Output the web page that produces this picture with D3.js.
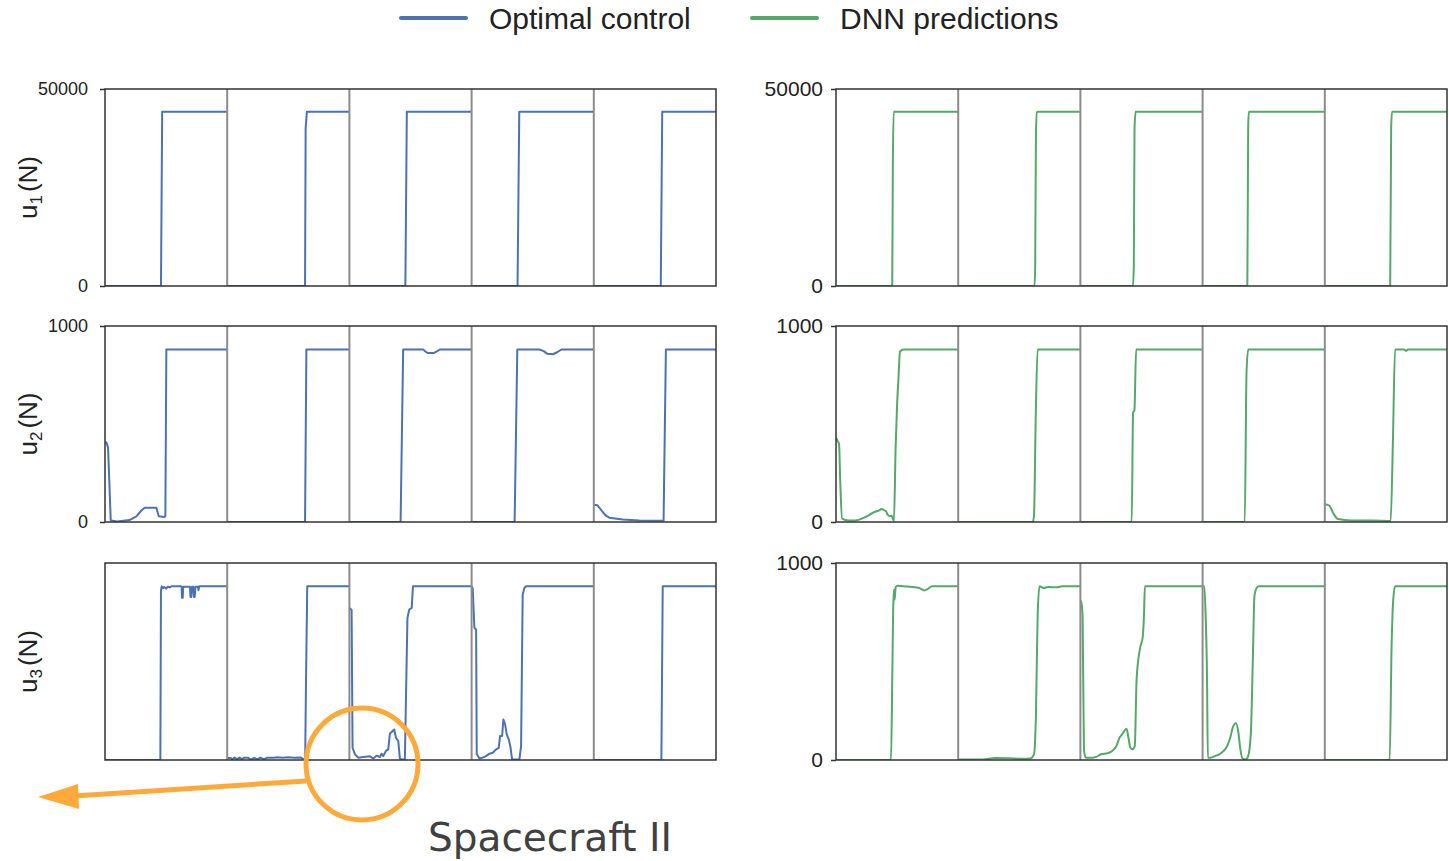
<!DOCTYPE html>
<html>
<head>
<meta charset="utf-8">
<script src="https://cdn.jsdelivr.net/npm/d3@7"></script>
<style>
  html, body { margin: 0; padding: 0; background: #fff; }
  svg { display: block; font-family: "Liberation Sans", Arial, sans-serif; }
</style>
</head>
<body>
<svg id="chart" width="1449" height="861"></svg>
<script>
// Five independent trajectories per panel; t is normalised time within each trajectory.
const segmentIds = [0, 1, 2, 3, 4];
const rowNames = ["1", "2", "3"];
const yMaxima = [50000, 1000, 1000];
const leftTickLabels = [["0", "50000"], ["0", "1000"], []];
const rightTickLabels = [["0", "50000"], ["0", "1000"], ["0", "1000"]];
const legendLabels = ["Optimal control", "DNN predictions"];
const annotationLabel = "Spacecraft II";

// u1 thrust [t, N]
const u1Optimal = [
  [[0, 0], [0.458, 0], [0.468, 44200], [1, 44200]],
  [[0, 0], [0.637, 0], [0.642, 40000], [0.652, 44200], [1, 44200]],
  [[0, 0], [0.458, 0], [0.47, 44200], [1, 44200]],
  [[0, 0], [0.376, 0], [0.39, 44200], [1, 44200]],
  [[0, 0], [0.548, 0], [0.56, 44200], [1, 44200]]
];
const u1Dnn = [
  [[0, 0], [0.46, 0], [0.465, 30000], [0.472, 44200], [1, 44200]],
  [[0, 0], [0.625, 0], [0.63, 5000], [0.636, 38000], [0.643, 44200], [1, 44200]],
  [[0, 0], [0.43, 0], [0.437, 5000], [0.443, 40000], [0.452, 44200], [1, 44200]],
  [[0, 0], [0.366, 0], [0.373, 40000], [0.378, 44200], [1, 44200]],
  [[0, 0], [0.535, 0], [0.543, 40000], [0.55, 44200], [1, 44200]]
];

// u2 thrust [t, N]
const u2Optimal = [
  [[0, 410], [0.012, 405], [0.025, 380], [0.047, 8], [0.1, 3], [0.2, 10], [0.257, 29], [0.3, 60],
   [0.325, 73], [0.42, 73], [0.44, 29], [0.483, 25], [0.494, 30], [0.502, 880], [1, 880]],
  [[0, 0], [0.637, 0], [0.648, 880], [1, 880]],
  [[0, 0], [0.419, 0], [0.44, 880], [0.604, 880], [0.625, 868], [0.645, 862], [0.69, 862],
   [0.715, 870], [0.74, 880], [1, 880]],
  [[0, 0], [0.352, 0], [0.374, 880], [0.556, 880], [0.59, 872], [0.62, 858], [0.666, 856],
   [0.7, 866], [0.735, 880], [1, 880]],
  [[0, 88], [0.03, 85], [0.05, 70], [0.072, 51], [0.1, 32], [0.127, 22], [0.236, 13], [0.372, 8],
   [0.563, 6], [0.571, 6], [0.59, 880], [1, 880]]
];
const u2Dnn = [
  [[0, 431], [0.012, 415], [0.025, 397], [0.035, 200], [0.05, 17], [0.1, 8], [0.158, 8], [0.23, 22],
   [0.3, 46], [0.33, 55], [0.355, 59], [0.37, 66], [0.39, 62], [0.41, 54], [0.42, 40], [0.44, 30],
   [0.456, 32], [0.465, 15], [0.474, 5], [0.488, 380], [0.5, 600], [0.51, 718], [0.524, 870],
   [0.553, 880], [1, 880]],
  [[0, 0], [0.61, 0], [0.62, 30], [0.635, 549], [0.65, 880], [1, 880]],
  [[0, 0], [0.42, 0], [0.431, 557], [0.442, 570], [0.456, 880], [1, 880]],
  [[0, 0], [0.345, 0], [0.359, 752], [0.373, 880], [1, 880]],
  [[0, 90], [0.018, 88], [0.036, 84], [0.072, 42], [0.108, 15], [0.215, 8], [0.395, 8], [0.539, 5],
   [0.557, 400], [0.575, 880], [0.65, 880], [0.664, 873], [0.68, 880], [1, 880]]
];

// u3 thrust [t, N]
const u3Optimal = [
  [[0, 0], [0.453, 0], [0.458, 860], [0.464, 882], [0.475, 872], [0.485, 878], [0.5, 870], [0.515, 880],
   [0.53, 876], [0.545, 882], [0.62, 882], [0.627, 880], [0.63, 823], [0.636, 823], [0.64, 880],
   [0.695, 880], [0.7, 828], [0.706, 828], [0.712, 880], [0.722, 880], [0.728, 828], [0.734, 828],
   [0.74, 880], [0.76, 880], [0.765, 862], [0.771, 882], [1, 882]],
  [[0, 10], [0.03, 10], [0.04, 3], [0.06, 12], [0.08, 3], [0.1, 12], [0.12, 4], [0.14, 12], [0.17, 12],
   [0.19, 2], [0.22, 10], [0.25, 3], [0.27, 12], [0.3, 4], [0.33, 12], [0.38, 12], [0.41, 14],
   [0.45, 12], [0.5, 14], [0.55, 12], [0.6, 13], [0.625, 5], [0.638, 3], [0.645, 400], [0.655, 882],
   [1, 882]],
  [[0, 772], [0.018, 763], [0.026, 62], [0.045, 29], [0.072, 12], [0.113, 15], [0.168, 19], [0.195, 8],
   [0.222, 22], [0.25, 15], [0.263, 32], [0.277, 20], [0.299, 46], [0.318, 54], [0.331, 133],
   [0.354, 147], [0.367, 155], [0.381, 113], [0.4, 96], [0.413, 8], [0.427, 3], [0.454, 3],
   [0.46, 215], [0.475, 721], [0.49, 764], [0.51, 772], [0.52, 882], [1, 882]],
  [[0, 882], [0.009, 872], [0.023, 671], [0.037, 662], [0.042, 30], [0.064, 8], [0.091, 12], [0.118, 20],
   [0.146, 32], [0.173, 37], [0.187, 46], [0.2, 54], [0.222, 62], [0.233, 122], [0.25, 122],
   [0.26, 206], [0.274, 181], [0.288, 130], [0.304, 105], [0.318, 66], [0.331, 3], [0.391, 3],
   [0.405, 71], [0.418, 840], [0.432, 873], [0.446, 882], [1, 882]],
  [[0, 0], [0.553, 0], [0.564, 882], [1, 882]]
];
const u3Dnn = [
  [[0, 0], [0.45, 0], [0.46, 392], [0.468, 764], [0.474, 865], [0.48, 814], [0.488, 878], [0.505, 885],
   [0.553, 882], [0.625, 878], [0.68, 873], [0.725, 861], [0.75, 868], [0.786, 882], [1, 882]],
  [[0, 2], [0.2, 2], [0.305, 10], [0.413, 9], [0.52, 6], [0.59, 8], [0.62, 29], [0.636, 223],
   [0.65, 730], [0.665, 882], [0.7, 873], [0.736, 878], [0.81, 877], [0.85, 882], [1, 882]],
  [[0, 806], [0.007, 806], [0.018, 730], [0.029, 54], [0.043, 12], [0.097, 12], [0.133, 17], [0.169, 29],
   [0.223, 34], [0.259, 46], [0.295, 71], [0.32, 113], [0.341, 130], [0.359, 147], [0.377, 159],
   [0.391, 122], [0.409, 62], [0.427, 54], [0.445, 71], [0.459, 392], [0.474, 510], [0.492, 578],
   [0.509, 620], [0.52, 730], [0.528, 882], [1, 882]],
  [[0, 882], [0.014, 882], [0.025, 730], [0.036, 426], [0.043, 12], [0.065, 12], [0.1, 20], [0.136, 29],
   [0.172, 46], [0.201, 71], [0.226, 113], [0.251, 172], [0.273, 186], [0.291, 147], [0.309, 54],
   [0.327, 7], [0.352, 3], [0.373, 20], [0.395, 139], [0.413, 561], [0.424, 831], [0.442, 873],
   [0.46, 882], [1, 882]],
  [[0, 0], [0.531, 0], [0.546, 561], [0.56, 814], [0.575, 882], [1, 882]]
];

const optimalSeries = [u1Optimal, u2Optimal, u3Optimal];
const dnnSeries = [u1Dnn, u2Dnn, u3Dnn];

// ---- layout & style ----
const BLUE = "#4c72b0";
const GREEN = "#55a868";
const ORANGE = "#ffa93b";
const FRAME = "#333333";
const DIVIDER = "#8c8c8c";
const SANS = "'Liberation Sans', Arial, sans-serif";

const columns = [
  { x0: 105, x1: 716, series: optimalSeries, color: BLUE, ticks: leftTickLabels, tickFont: 18, curve: d3.curveLinear },
  { x0: 836, x1: 1447, series: dnnSeries, color: GREEN, ticks: rightTickLabels, tickFont: 21, curve: d3.curveMonotoneX }
];
const rowBands = [[89, 286], [326, 522], [563, 760]];

const svg = d3.select("#chart");

columns.forEach((col, ci) => {
  rowBands.forEach((band, ri) => {
    const [y0, y1] = band;
    const x = d3.scaleLinear().domain([0, segmentIds.length]).range([col.x0, col.x1]);
    const y = d3.scaleLinear().domain([0, yMaxima[ri]]).range([y1, y0]);
    const g = svg.append("g");

    const clipId = `clip-${ci}-${ri}`;
    svg.append("clipPath").attr("id", clipId)
      .append("rect").attr("x", col.x0).attr("y", y0 - 3)
      .attr("width", col.x1 - col.x0).attr("height", y1 - y0 + 3);

    // trajectories
    const line = d3.line().curve(col.curve);
    const traj = g.append("g").attr("clip-path", `url(#${clipId})`);
    segmentIds.forEach(s => {
      line.x(d => x(s + d[0])).y(d => y(d[1]));
      traj.append("path")
        .attr("d", line(col.series[ri][s]))
        .attr("fill", "none")
        .attr("stroke", col.color)
        .attr("stroke-width", 2)
        .attr("stroke-linejoin", "round");
    });

    // trajectory dividers
    g.selectAll("line.div")
      .data(segmentIds.slice(1))
      .join("line")
      .attr("x1", d => x(d)).attr("x2", d => x(d))
      .attr("y1", y0).attr("y2", y1)
      .attr("stroke", DIVIDER)
      .attr("stroke-width", 2);

    // frame
    g.append("rect")
      .attr("x", col.x0).attr("y", y0)
      .attr("width", col.x1 - col.x0).attr("height", y1 - y0)
      .attr("fill", "none")
      .attr("stroke", FRAME)
      .attr("stroke-width", 1.5);

    // y ticks
    const labels = col.ticks[ri];
    if (labels.length) {
      const axis = d3.axisLeft(y)
        .tickValues([0, yMaxima[ri]])
        .tickFormat((d, i) => labels[i])
        .tickSize(5)
        .tickPadding(ci === 0 ? 12 : 8);
      const ax = svg.append("g")
        .attr("transform", `translate(${col.x0},0)`)
        .call(axis);
      ax.select(".domain").remove();
      ax.selectAll(".tick line").attr("stroke", FRAME).attr("stroke-width", 1.5);
      ax.selectAll(".tick text")
        .attr("fill", "#222")
        .style("font-size", col.tickFont + "px")
        .style("font-family", SANS);
    }

    // y-axis title on the left column
    if (ci === 0) {
      const cy = (y0 + y1) / 2;
      const t = svg.append("text")
        .attr("transform", `translate(37,${cy}) rotate(-90)`)
        .attr("text-anchor", "middle")
        .style("font-size", "26px")
        .style("font-family", SANS)
        .attr("fill", "#222");
      t.append("tspan").text("u");
      t.append("tspan").style("font-size", "17px").attr("dy", 5).text(rowNames[ri]);
      t.append("tspan").attr("dy", -5).attr("dx", 3).text("(N)");
    }
  });
});

// legend
const legend = svg.append("g");
const legendItems = [
  { label: legendLabels[0], color: BLUE, lx: 401 },
  { label: legendLabels[1], color: GREEN, lx: 752 }
];
legendItems.forEach(it => {
  legend.append("line")
    .attr("x1", it.lx).attr("x2", it.lx + 65)
    .attr("y1", 18).attr("y2", 18)
    .attr("stroke", it.color).attr("stroke-width", 4)
    .attr("stroke-linecap", "round");
  legend.append("text")
    .attr("x", it.lx + 88).attr("y", 29)
    .style("font-size", "30px")
    .style("font-family", SANS)
    .attr("fill", "#222")
    .text(it.label);
});

// annotation: circled region with arrow and caption
const ann = svg.append("g");
ann.append("ellipse")
  .attr("cx", 362).attr("cy", 764).attr("rx", 56).attr("ry", 56)
  .attr("fill", "none").attr("stroke", ORANGE).attr("stroke-width", 5);
ann.append("line")
  .attr("x1", 306).attr("y1", 781).attr("x2", 74).attr("y2", 796)
  .attr("stroke", ORANGE).attr("stroke-width", 5);
ann.append("path")
  .attr("d", d3.line()([[38, 797], [78, 784], [79, 809]]) + "Z")
  .attr("fill", ORANGE);
ann.append("text")
  .attr("x", 428).attr("y", 851)
  .style("font-family", "'DejaVu Sans', Verdana, sans-serif")
  .style("font-size", "39px")
  .attr("fill", "#404040")
  .text(annotationLabel);
</script>
</body>
</html>
